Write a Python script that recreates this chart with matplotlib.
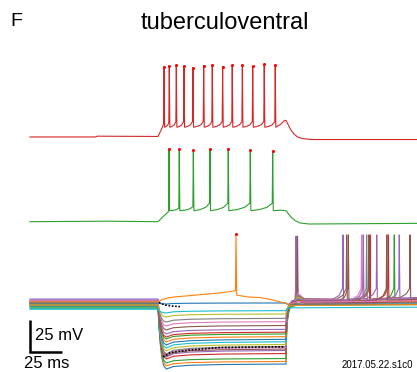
import numpy as np
import matplotlib.pyplot as plt

plt.rcParams['font.family'] = ['Liberation Sans', 'DejaVu Sans']

PX = 1.28          # pixels per ms and per mV in the reference
W, H = 417, 372

# ---------------- top trace (red), voltages in mV, times in ms
red_lead_t = [0.0, 51.0, 52.5, 100.0, 102.0, 104.0]
red_lead_v = [-60.0, -60.0, -59.4, -59.6, -55.5, -51.0]
red_spk_t = [104.7, 108.8, 114.3, 120.3, 127.3, 135.7, 142.4, 150.5, 158.0, 165.9, 174.0, 183.0, 191.6]
red_spk_peak = [-5.1, -4.3, -3.8, -4.8, -5.9, -4.3, -3.8, -5.1, -3.8, -3.8, -4.8, -3.0, -3.8]
red_spk_thr = [-49.8, -48.5, -48.0, -48.0, -48.0, -48.0, -48.0, -48.0, -48.0, -48.0, -48.0, -48.0, -48.0]
red_trough = -52.4
red_tail_t = [196.0, 199.0, 200.0, 201.5, 203.5, 206.0, 209.0, 213.0, 220.0, 302.0]
red_tail_v = [-50.0, -47.0, -47.2, -50.0, -54.0, -57.5, -60.0, -61.3, -62.0, -62.0]

# ---------------- middle trace (green)
grn_lead_t = [0.0, 60.0, 100.0, 104.0, 107.8]
grn_lead_v = [-60.0, -59.6, -60.0, -56.0, -52.5]
grn_spk_t = [108.6, 116.6, 127.6, 140.6, 154.9, 172.1, 189.6]
grn_spk_peak = [-3.2, -3.2, -4.2, -3.2, -3.0, -3.8, -4.8]
grn_spk_thr = [-51.8, -49.5, -48.3, -45.6, -45.6, -45.6, -45.6]
grn_trough = -51.4
grn_tail_t = [196.0, 200.0, 202.0, 204.0, 207.0, 211.0, 218.0, 302.0]
grn_tail_v = [-51.0, -51.4, -54.0, -56.5, -59.0, -61.0, -61.8, -61.3]

# ---------------- bottom family: hyperpolarising steps (deepest first)
fam_rest = [-60.8, -59.2, -62.3, -60.0, -56.1, -57.7, -58.4, -59.2, -60.0, -63.9, -61.6,
            -58.4, -63.1, -60.8, -56.9, -58.4, -57.7, -60.0, -60.8, -63.9, -59.2]
fam_peak = [-110.8, -108.4, -106.1, -103.0, -101.4, -100.6, -99.8, -99.1, -96.7, -94.4, -92.0,
            -89.7, -87.3, -85.8, -83.4, -80.3, -77.2, -74.1, -70.2, -67.0, -60.0]
fam_end = [-106.9, -104.9, -102.6, -98.7, -96.3, -95.2, -94.0, -93.2, -91.6, -89.5, -87.6,
           -85.5, -83.4, -82.0, -79.8, -76.8, -73.8, -71.2, -67.8, -65.2, -59.2]
fam_post0 = [-59.5, -59.0, -58.5, -58.0, -57.0, -57.0, -57.5, -58.0, -58.5, -60.5, -59.5,
             -59.0, -61.5, -60.0, -58.0, -58.5, -59.0, -60.0, -61.0, -63.0, -60.5]
fam_post1 = [-57.5, -57.0, -56.5, -55.5, -55.0, -55.0, -55.5, -56.0, -57.0, -59.0, -58.0,
             -58.0, -60.5, -58.5, -56.0, -56.5, -57.5, -59.0, -60.0, -62.5, -60.0]
fam_bump = [5, 5, 5, 5, 0, 0, 6, 5, 4, 3, 3, 2, 2, 2, 2, 1, 1, 0, 0, 0, 0]
fam_spikes = {2: [284.6], 3: [265.6, 279.9], 4: [207.8, 244.5, 270.9],
              5: [209.0, 247.4, 264.8, 296.9], 6: [259.1], 7: [263.0],
              14: [260.4, 288.5], 15: [248.7, 278.7]}
fam_spk_peak = -6.0
fam_spk_thr = -48.0

# shared time course of the step responses (fractions of the change)
on_t = [100.0, 100.8, 101.8, 103.0, 104.5, 106.5]
on_frac = [0.0, 0.35, 0.62, 0.82, 0.95, 1.0]
plat_t = [112.0, 125.0, 150.0, 200.0]
plat_frac = [0.5, 0.75, 0.9, 1.0]
off_t = [200.4, 201.2, 202.5, 204.5, 207.0]
off_frac = [0.45, 0.72, 0.9, 0.98, 1.0]

# depolarised sweep (orange) with a single spike
org_t = [0.0, 100.0, 103.0, 108.0, 113.0, 148.0, 160.5, 160.9, 161.5, 170.0, 180.0, 188.0,
         200.0, 204.0, 302.0]
org_v = [-58.4, -58.4, -56.5, -55.2, -54.5, -51.4, -49.6, -5.5, -53.0, -54.5, -55.0, -56.5,
         -59.5, -61.0, -60.5]

# black dotted fits
fit1_t = [104.0, 109.4, 125.0, 148.4, 199.0]
fit1_v = [-101.4, -98.0, -95.9, -94.0, -93.4]
fit2_t = [100.8, 105.5, 110.9, 117.2]
fit2_v = [-58.8, -60.8, -61.6, -62.0]

# vertical placement of the three panels (mV offsets)
off_red, off_grn, off_fam = -47.0, -113.2, -177.5


def spike_train(times, peaks, thr, trough):
    ts, vs = [], []
    for i, (s, p, th) in enumerate(zip(times, peaks, thr)):
        if i > 0:
            prev = times[i - 1] + 0.45
            d = s - 0.35 - prev
            ts += [prev + 0.4 * d, prev + 0.75 * d]
            vs += [trough + 0.15 * (th - trough), trough + 0.45 * (th - trough)]
        ts += [s - 0.35, s, s + 0.45]
        vs += [th, p, trough]
    return ts, vs


fig = plt.figure(figsize=(W / 100, H / 100), dpi=100)
ax = fig.add_axes([0, 0, 1, 1])
ax.set_xlim(-30 / PX, (W - 30) / PX)
ax.set_ylim(-H / PX, 0)
ax.axis('off')

# red
st, sv = spike_train(red_spk_t, red_spk_peak, red_spk_thr, red_trough)
t = red_lead_t + st + red_tail_t
v = red_lead_v + sv + red_tail_v
ax.plot(t, np.array(v) + off_red, color='#d62728', lw=0.8)
ax.plot(red_spk_t, np.array(red_spk_peak) + off_red, 'o', color='red', ms=2.2, mew=0)

# green
st, sv = spike_train(grn_spk_t, grn_spk_peak, grn_spk_thr, grn_trough)
t = grn_lead_t + st + grn_tail_t
v = grn_lead_v + sv + grn_tail_v
ax.plot(t, np.array(v) + off_grn, color='#2ca02c', lw=0.8)
ax.plot(grn_spk_t, np.array(grn_spk_peak) + off_grn, 'o', color='red', ms=2.2, mew=0)

# family of hyperpolarising sweeps
for k in range(len(fam_rest)):
    r, pk, e = fam_rest[k], fam_peak[k], fam_end[k]
    p0, p1 = fam_post0[k], fam_post1[k]
    pts = [(0.0, r)]
    pts += [(tt, r + f * (pk - r)) for tt, f in zip(on_t, on_frac)]
    pts += [(tt, pk + f * (e - pk)) for tt, f in zip(plat_t, plat_frac)]
    pts += [(tt, e + f * (p0 - e)) for tt, f in zip(off_t, off_frac)]
    if fam_bump[k]:
        pts += [(209.0, p0 + fam_bump[k]), (216.0, p0 + 0.5)]
    for s in fam_spikes.get(k, []):
        if s < 215:
            pts += [(s - 0.4, -50.0), (s, fam_spk_peak - 1.0), (s + 0.5, p0 - 1.0), (214.0, p0 + 1.0)]
        else:
            base = np.interp(s, [216.0, 302.0], [p0, p1])
            pts += [(s - 8.0, base), (s - 3.0, base + 3.0), (s - 0.4, fam_spk_thr),
                    (s, fam_spk_peak), (s + 0.5, base - 1.5), (s + 3.0, base)]
    pts += [(302.0, p1)]
    pts.sort(key=lambda q: q[0])
    tt, vv = zip(*pts)
    ax.plot(tt, np.array(vv) + off_fam, color=f'C{k % 10}', lw=0.8)

ax.plot(org_t, np.array(org_v) + off_fam, color='C1', lw=0.8)
ax.plot([160.9], [-5.5 + off_fam], 'o', color='red', ms=2.2, mew=0)
ax.plot(fit1_t, np.array(fit1_v) + off_fam, color='black', lw=1.2, ls=(0, (1, 1)))
ax.plot(fit2_t, np.array(fit2_v) + off_fam, color='black', lw=1.2, ls=(0, (1, 1)))

# scale bar: 25 mV / 25 ms
sb_y = -351.7 / PX
ax.plot([0, 0, 25], [sb_y + 25, sb_y, sb_y], color='black', lw=1.8,
        solid_joinstyle='miter', solid_capstyle='butt')

fig.text(10 / W, 1 - 26.5 / H, 'F', fontsize=14, va='baseline')
fig.text(225 / W, 1 - 29 / H, 'tuberculoventral', fontsize=17, ha='center', va='baseline')
fig.text(35 / W, 1 - 340 / H, '25 mV', fontsize=12, va='baseline')
fig.text(24 / W, 1 - 368.3 / H, '25 ms', fontsize=12, va='baseline')
fig.text(413.5 / W, 1 - 368.3 / H, '2017.05.22.s1c0', fontsize=7, ha='right', va='baseline')

fig.savefig('out.png', dpi=100)
